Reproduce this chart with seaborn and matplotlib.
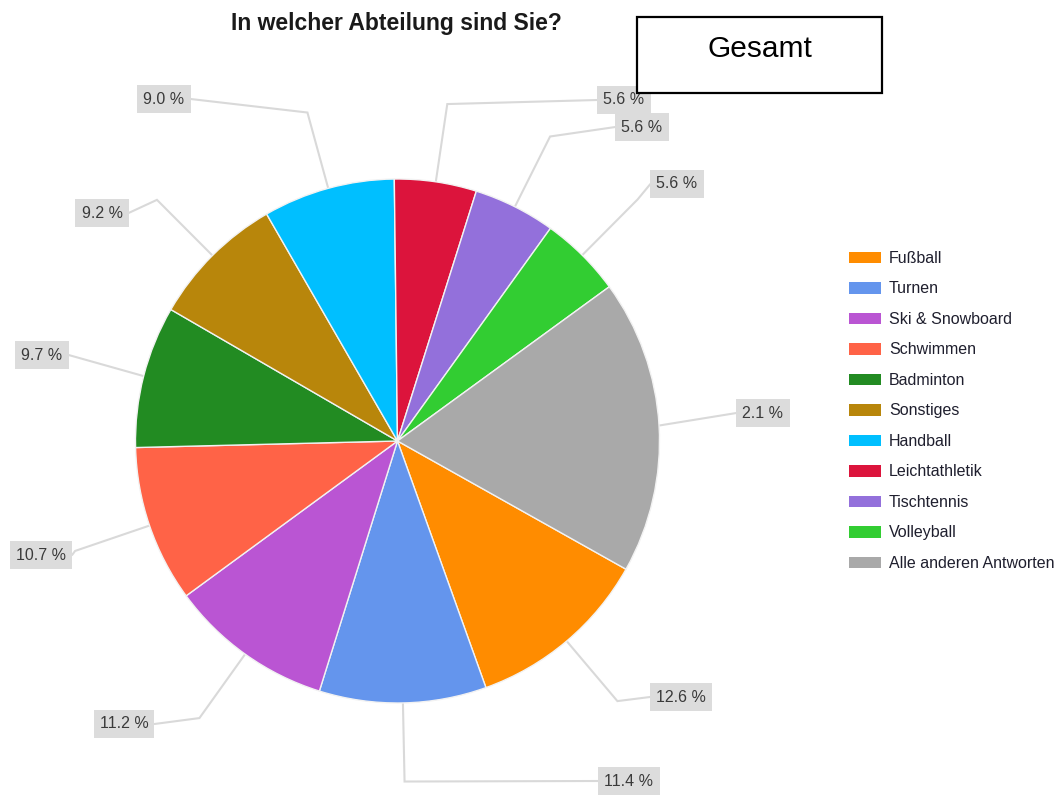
import numpy as np
import matplotlib
matplotlib.use("Agg")
import matplotlib.pyplot as plt
from matplotlib.patches import Rectangle, Patch
import seaborn as sns

# ---- data -------------------------------------------------------------
departments = ["Fußball", "Turnen", "Ski & Snowboard", "Schwimmen", "Badminton",
               "Sonstiges", "Handball", "Leichtathletik", "Tischtennis",
               "Volleyball", "Alle anderen Antworten"]
shares = [12.6, 11.4, 11.2, 10.7, 9.7, 9.2, 9.0, 5.6, 5.6, 5.6, 20.1]
share_labels = ["12.6 %", "11.4 %", "11.2 %", "10.7 %", "9.7 %", "9.2 %",
                "9.0 %", "5.6 %", "5.6 %", "5.6 %", "2.1 %"]
slice_colors = ["#FF8C00", "#6495ED", "#BA55D3", "#FF6347", "#228B22",
                "#B8860B", "#00BFFF", "#DC143C", "#9370DB", "#32CD32",
                "#A9A9A9"]
title = "In welcher Abteilung sind Sie?"
box_title = "Gesamt"

# ---- layout (pixel units, y measured from the top) ----------------------
W, H = 1062, 796
CX, CY, R = 397.5, 441, 262
label_pos = [(681, 697), (629, 781), (124, 724), (41, 555), (42, 355),
             (102, 213), (164, 99), (624, 100), (642, 127), (677, 184),
             (763, 413)]

sns.set_theme(style="white")
plt.rcParams["font.family"] = ["Liberation Sans", "DejaVu Sans"]

fig = plt.figure(figsize=(W / 100, H / 100), dpi=100)
ax = fig.add_axes([0, 0, 1, 1])

palette = sns.color_palette(slice_colors)
cy = H - CY
wedges, _ = ax.pie(shares, colors=palette, startangle=-29.3, counterclock=False,
                   radius=R, center=(CX, cy), frame=False,
                   wedgeprops=dict(edgecolor="#f2f2f2", linewidth=1.0))
ax.set_xlim(0, W)
ax.set_ylim(0, H)
ax.set_aspect("equal")
ax.axis("off")

# percentage boxes
texts = []
for lab, (lx, ly) in zip(share_labels, label_pos):
    t = ax.text(lx, H - ly, lab, ha="center", va="center", fontsize=11.5,
                color="#3a3a3a", zorder=4,
                bbox=dict(boxstyle="square,pad=0.38", fc="#dcdcdc", ec="none"))
    texts.append(t)

# leader lines: radial out of the slice, then across to the box
fig.canvas.draw()
renderer = fig.canvas.get_renderer()
inv = ax.transData.inverted()
for w, t in zip(wedges, texts):
    mid = np.deg2rad((w.theta1 + w.theta2) / 2)
    ex, ey = CX + R * np.cos(mid), cy + R * np.sin(mid)
    bx, by = CX + 1.3 * R * np.cos(mid), cy + 1.3 * R * np.sin(mid)
    ext = t.get_bbox_patch().get_window_extent(renderer)
    (x0, y0), (x1, y1) = inv.transform([[ext.x0, ext.y0], [ext.x1, ext.y1]])
    tx, ty = t.get_position()
    if tx > CX:
        end_x = x0
        skip = bx > end_x
    else:
        end_x = x1
        skip = bx < end_x
    pts = [(ex, ey)] + ([] if skip else [(bx, by)]) + [(end_x, ty)]
    xs, ys = zip(*pts)
    ax.plot(xs, ys, color="#d9d9d9", lw=1.5, zorder=0.5,
            solid_joinstyle="miter")

# title
ax.text(396, H - 30, title, ha="center", va="baseline", fontsize=16.5,
        fontweight="bold", color="#1a1a1a")

# framed caption box
ax.add_patch(Rectangle((637, H - 93), 245, 76, fc="white", ec="black",
                       lw=1.6, zorder=10))
ax.text(759.5, H - 57, box_title, ha="center", va="baseline", fontsize=21.5,
        color="black", zorder=11)

# legend
handles = [Patch(facecolor=c, edgecolor="none") for c in palette]
ax.legend(handles, departments, loc="upper left",
          bbox_to_anchor=(849 / W, 1 - 251 / H), bbox_transform=fig.transFigure,
          frameon=False, fontsize=11.5, handlelength=2.0, handleheight=0.75,
          handletextpad=0.5, labelspacing=0.97, borderpad=0, borderaxespad=0,
          labelcolor="#1f1f2e")

fig.savefig("out.png", dpi=100, facecolor="white")
